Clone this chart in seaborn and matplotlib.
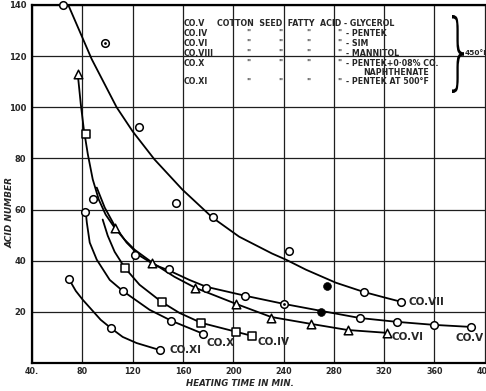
import matplotlib
matplotlib.use('Agg')
import matplotlib.pyplot as plt
import seaborn as sns
from matplotlib.textpath import TextPath
from matplotlib.patches import PathPatch
from matplotlib.font_manager import FontProperties
from matplotlib.transforms import Affine2D

# ---------------- data ----------------
x_ticks = [40, 80, 120, 160, 200, 240, 280, 320, 360, 400]
x_tick_labels = ["40.", "80", "120", "160", "200", "240", "280", "320", "360", "400"]
y_ticks = [0, 20, 40, 60, 80, 100, 120, 140]
y_tick_labels = ["", "20", "40", "60", "80", "100", "120", "140"]

# CO.VII (open circles, one dotted, one filled) + drawn curve
co7_x = [64.6, 124.7, 154.8, 184.1, 244.3, 303.7, 333.8]
co7_y = [140.0, 92.2, 62.7, 56.9, 43.9, 27.8, 23.9]
co7_dot_x = [97.8]
co7_dot_y = [125.1]
co7_fill_x = [274.4]
co7_fill_y = [30.2]
co7_curve_x = [68.5, 87.5, 107.3, 120.0, 137.4, 159.6, 183.4, 204.7, 230.9, 242.0, 257.8, 281.6, 303.7, 321.2, 333.8]
co7_curve_y = [140.4, 118.8, 100.0, 90.6, 79.6, 67.8, 56.9, 49.4, 42.8, 40.4, 36.5, 31.4, 27.8, 25.5, 23.9]

# CO.V (circles)
co5_x = [88.3, 121.6, 149.3, 178.6, 209.5, 300.6, 329.9, 360.0, 389.3]
co5_y = [64.3, 42.4, 36.9, 29.4, 26.3, 17.6, 16.1, 14.9, 14.1]
co5_dot_x = [240.4]
co5_dot_y = [23.1]
co5_fill_x = [269.7]
co5_fill_y = [20.0]
co5_curve_x = [91.5, 97.8, 105.7, 115.2, 125.5, 137.4, 149.3, 165.1, 178.6, 209.5, 240.4, 269.7, 300.6, 329.9, 360.0, 389.3]
co5_curve_y = [68.6, 60.8, 53.7, 47.1, 42.0, 38.4, 36.1, 32.5, 29.8, 26.3, 23.1, 20.4, 17.6, 16.1, 14.9, 14.1]

# CO.VI (triangles)
co6_x = [76.4, 105.7, 135.8, 169.9, 202.4, 230.1, 261.8, 291.1, 322.0]
co6_y = [112.9, 52.9, 39.2, 29.4, 23.1, 17.6, 15.3, 12.9, 11.8]
co6_curve_x = [76.4, 78.8, 81.2, 84.4, 88.3, 93.1, 98.6, 105.7, 113.7, 121.6, 135.8, 153.3, 169.9, 202.4, 230.1, 261.8, 291.1, 322.0]
co6_curve_y = [112.9, 101.2, 91.4, 81.6, 71.8, 63.9, 58.0, 52.9, 48.2, 44.3, 39.2, 33.7, 29.4, 23.1, 18.0, 15.3, 12.9, 11.8]

# CO.IV (squares)
co4_x = [82.8, 113.7, 143.0, 174.6, 202.4, 215.0]
co4_y = [89.4, 37.3, 23.9, 15.7, 12.2, 10.6]
co4_curve_x = [96.2, 100.2, 105.7, 113.7, 125.5, 143.0, 157.2, 174.6, 202.4, 215.0]
co4_curve_y = [56.1, 49.8, 43.5, 37.3, 30.6, 23.9, 19.6, 15.7, 12.2, 10.6]

# CO.X (circles)
co10_x = [82.0, 112.1, 150.9, 176.2]
co10_y = [59.2, 28.2, 16.5, 11.4]
co10_curve_x = [82.8, 83.6, 85.9, 91.5, 101.8, 112.1, 133.5, 150.9, 176.2]
co10_curve_y = [58.8, 54.9, 47.1, 40.4, 32.5, 28.2, 20.8, 16.5, 11.4]

# CO.XI (circles)
co11_x = [69.3, 102.6, 141.4]
co11_y = [32.9, 13.7, 5.1]
co11_curve_x = [69.3, 74.8, 80.4, 87.5, 94.6, 102.6, 112.1, 123.2, 141.4]
co11_curve_y = [32.9, 28.2, 24.7, 20.8, 16.9, 13.7, 10.2, 7.8, 5.1]

curve_labels = ["CO.VII", "CO.V", "CO.VI", "CO.IV", "CO.X", "CO.XI"]
legend_codes = ["CO.V", "CO.IV", "CO.VI", "CO.VIII", "CO.X", "CO.XI"]
legend_names = ["- GLYCEROL", "- PENTEK", "- SIM", "- MANNITOL", "- PENTEK+0·08% CO.", "- PENTEK AT 500°F"]

# ---------------- figure ----------------
sns.set_style('white')
plt.rcParams['font.family'] = ['DejaVu Sans']

W, H = 486, 391
fig = plt.figure(figsize=(W / 100, H / 100), dpi=100)
ax = fig.add_axes([32 / W, 28 / H, 454 / W, 358 / H])

line_kw = dict(color='black', lw=1.3, sort=False, estimator=None, ax=ax, zorder=2)
for cx, cy in [(co7_curve_x, co7_curve_y), (co5_curve_x, co5_curve_y), (co6_curve_x, co6_curve_y),
               (co4_curve_x, co4_curve_y), (co10_curve_x, co10_curve_y), (co11_curve_x, co11_curve_y)]:
    sns.lineplot(x=cx, y=cy, **line_kw)

open_kw = dict(color='white', edgecolor='black', linewidth=1.1, ax=ax, zorder=4, clip_on=False)
for mx, my in [(co7_x, co7_y), (co7_dot_x, co7_dot_y), (co5_x, co5_y), (co5_dot_x, co5_dot_y),
               (co10_x, co10_y), (co11_x, co11_y)]:
    sns.scatterplot(x=mx, y=my, marker='o', s=30, **open_kw)
for mx, my in [(co7_dot_x, co7_dot_y), (co5_dot_x, co5_dot_y)]:
    sns.scatterplot(x=mx, y=my, marker='o', s=4, color='black', linewidth=0, ax=ax, zorder=5)
for mx, my in [(co7_fill_x, co7_fill_y), (co5_fill_x, co5_fill_y)]:
    sns.scatterplot(x=mx, y=my, marker='o', s=32, color='black', edgecolor='black', ax=ax, zorder=5)
sns.scatterplot(x=co6_x, y=co6_y, marker='^', s=38, **open_kw)
sns.scatterplot(x=co4_x, y=co4_y, marker='s', s=28, **open_kw)

ax.set_xlim(40, 401)
ax.set_ylim(0, 140)
ax.set_xticks(x_ticks)
ax.set_xticklabels(x_tick_labels, fontsize=5.8, fontweight='bold')
ax.set_yticks(y_ticks)
ax.set_yticklabels(y_tick_labels, fontsize=6, fontweight='bold')
ax.tick_params(axis='x', length=2, width=1, color='black', pad=0.8)
ax.tick_params(axis='y', length=3, width=1, color='black', pad=1.2)
ax.grid(True, color='#1e1e1e', lw=0.9)
ax.set_axisbelow(True)
for side in ['left', 'bottom', 'top']:
    ax.spines[side].set_visible(True)
    ax.spines[side].set_color('black')
    ax.spines[side].set_linewidth(1.6)
ax.spines['right'].set_visible(False)

ax.set_xlabel('HEATING TIME IN MIN.', fontsize=6.2, fontweight='bold', fontstyle='italic', va='center')
ax.xaxis.set_label_coords((240 - 32) / 454, (363 - 383) / 358)
ax.set_ylabel('ACID NUMBER', fontsize=6.5, fontweight='bold', fontstyle='italic', va='center')
ax.yaxis.set_label_coords((10 - 32) / 454, (363 - 212) / 358)

# curve labels
lab_pos = [(339.4, 23.9), (376.6, 9.8), (325.9, 10.2), (219.0, 8.2), (178.6, 7.8), (149.3, 5.1)]
for txt, (lx, ly) in zip(curve_labels, lab_pos):
    ax.text(lx, ly, txt, fontsize=7.5, fontweight='bold', va='center', ha='left', zorder=6)

# legend block
row_y = [132.6, 128.8, 124.9, 121.0, 117.2, 109.9]
tk = dict(fontsize=5.7, fontweight='bold', va='center', ha='left')
for i, (code, name) in enumerate(zip(legend_codes, legend_names)):
    ax.text(160.4, row_y[i], code, **tk)
    if i == 0:
        ax.text(187.3, row_y[i], 'COTTON  SEED  FATTY  ACID ' + name, **tk)
    else:
        for dx in [210.3, 235.6, 257.8, 282.4]:
            ax.text(dx, row_y[i], '"', **tk)
        ax.text(289.5, row_y[i], name, **tk)
ax.text(303.7, 113.5, 'NAPHTHENATE', **tk)

# brace and temperature
fp = FontProperties(family='DejaVu Sans', weight='light')
tp = TextPath((0, 0), '}', size=1, prop=fp)
ext = tp.get_extents()
x0, x1 = 452 / W, 464 / W
y0, y1 = (H - 93) / H, (H - 15) / H
tr = (Affine2D().translate(-ext.x0, -ext.y0)
      .scale((x1 - x0) / ext.width, (y1 - y0) / ext.height)
      .translate(x0, y0) + fig.transFigure)
fig.add_artist(PathPatch(tp, transform=tr, facecolor='black', edgecolor='none'))
fig.text(465 / W, (H - 53) / H, '450°F', fontsize=5.3, fontweight='bold', va='center', ha='left')

fig.savefig('out.png', dpi=100)
